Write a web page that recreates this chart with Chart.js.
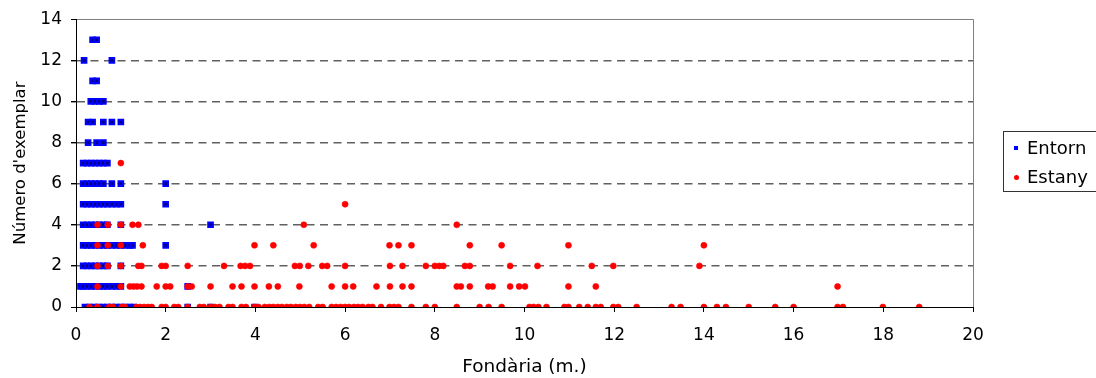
<!DOCTYPE html>
<html>
<head>
<meta charset="utf-8">
<script src="https://cdn.jsdelivr.net/npm/chart.js@4/dist/chart.umd.min.js"></script>
<style>
  html, body { margin: 0; padding: 0; background: #fff; overflow: hidden; }
  #wrap { position: relative; width: 1096px; height: 378px; }
  #legend {
    position: absolute; left: 1003px; top: 131px; width: 100px; height: 61px;
    border: 1px solid #333; box-sizing: border-box;
    font: 18px Verdana, "DejaVu Sans", sans-serif; color: #000;
  }
  .item { position: absolute; left: 0; height: 22px; line-height: 22px; white-space: nowrap; }
  .item span.mark { position: absolute; display: block; }
  .item span.txt { position: absolute; left: 23px; top: 0; }
</style>
</head>
<body>
<div id="wrap">
  <canvas id="chart" width="1096" height="378"></canvas>
  <div id="legend"></div>
</div>
<script>
// Entorn (blue squares): depth in metres / specimen number
const entornDepth = [
  0.37, 0.46,
  0.18, 0.80,
  0.37, 0.46,
  0.33, 0.42, 0.52, 0.61,
  0.27, 0.37, 0.61, 0.80, 1.0,
  0.27, 0.46, 0.61,
  0.16, 0.25, 0.34, 0.43, 0.52, 0.61, 0.70,
  0.16, 0.25, 0.34, 0.43, 0.52, 0.61, 0.80, 1.0, 2.0,
  0.16, 0.25, 0.34, 0.43, 0.52, 0.61, 0.70, 0.80, 0.90, 1.0, 2.0,
  0.16, 0.25, 0.34, 0.43, 0.52, 0.61, 0.70, 1.0, 3.0,
  0.16, 0.25, 0.34, 0.43, 0.52, 0.61, 0.70, 0.80, 0.90, 1.0, 1.1, 1.2, 1.26, 2.0,
  0.16, 0.25, 0.34, 0.43, 0.52, 0.61, 0.70, 1.0,
  0.10, 0.16, 0.25, 0.34, 0.43, 0.52, 0.61, 0.70, 0.80, 0.90, 1.0, 2.49,
  0.20, 0.30, 0.40, 0.50, 0.60, 0.70, 0.80, 0.90, 1.0, 1.1, 1.2, 1.28, 2.49, 3.0, 3.98
];
const entornCount = [
  13, 13,
  12, 12,
  11, 11,
  10, 10, 10, 10,
  9, 9, 9, 9, 9,
  8, 8, 8,
  7, 7, 7, 7, 7, 7, 7,
  6, 6, 6, 6, 6, 6, 6, 6, 6,
  5, 5, 5, 5, 5, 5, 5, 5, 5, 5, 5,
  4, 4, 4, 4, 4, 4, 4, 4, 4,
  3, 3, 3, 3, 3, 3, 3, 3, 3, 3, 3, 3, 3, 3,
  2, 2, 2, 2, 2, 2, 2, 2,
  1, 1, 1, 1, 1, 1, 1, 1, 1, 1, 1, 1,
  0, 0, 0, 0, 0, 0, 0, 0, 0, 0, 0, 0, 0, 0, 0
];

// Estany (red circles), grouped by specimen number
const estany7 = [1.0];
const estany5 = [6.0];
const estany4 = [0.48, 0.71, 1.0, 1.26, 1.39, 5.08, 8.49];
const estany3 = [0.48, 0.71, 1.0, 1.49, 3.98, 4.4, 5.3, 6.99, 7.19, 7.48, 8.78, 9.49, 10.98, 14.0];
const estany2 = [0.48, 0.71, 1.0, 1.39, 1.46, 1.91, 2.0, 2.49, 3.3, 3.67, 3.77, 3.88, 4.88, 4.99,
  5.18, 5.49, 5.6, 6.0, 7.0, 7.28, 7.8, 8.0, 8.1, 8.19, 8.67, 8.78, 9.68, 10.29, 11.5, 11.98, 13.9];
const estany1 = [0.48, 1.0, 1.2, 1.28, 1.36, 1.46, 1.8, 2.0, 2.1, 2.49, 2.58, 3.0, 3.49, 3.69, 3.98,
  4.3, 4.5, 4.98, 5.7, 6.0, 6.18, 6.7, 7.0, 7.28, 7.48, 8.49, 8.58, 8.78, 9.19, 9.29, 9.68, 9.88,
  10.01, 10.98, 11.59, 16.98];
const estany0 = [0.3, 0.48, 0.74, 0.82, 1.02, 1.09, 1.35, 1.43, 1.52, 1.61, 1.69, 1.91, 2.0, 2.19,
  2.28, 2.49, 2.76, 2.85, 3.0, 3.1, 3.2, 3.4, 3.49, 3.69, 3.79, 3.98, 4.07, 4.21, 4.31, 4.4, 4.5,
  4.59, 4.7, 4.79, 4.9, 4.99, 5.09, 5.2, 5.4, 5.5, 5.7, 5.8, 5.9, 6.0, 6.09, 6.2, 6.29, 6.39, 6.52,
  6.61, 6.8, 6.99, 7.09, 7.19, 7.48, 7.8, 8.0, 8.49, 9.0, 9.2, 9.49, 10.11, 10.2, 10.31, 10.49,
  10.89, 10.98, 11.22, 11.41, 11.59, 11.7, 11.98, 12.09, 12.5, 13.28, 13.48, 14.0, 14.29, 14.49,
  15.0, 15.59, 16.0, 16.98, 17.1, 17.99, 18.8];

const seriesNames = ['Entorn', 'Estany'];
const xTitle = 'Fondària (m.)';
const yTitle = "Número d'exemplar";

const FONT = 'Verdana, "DejaVu Sans", sans-serif';

function toPoints(xs, ys) {
  return xs.map((x, i) => ({ x, y: ys[i] }));
}

const estanyRows = [[7, estany7], [5, estany5], [4, estany4], [3, estany3], [2, estany2], [1, estany1], [0, estany0]];
const estanyPoints = [];
estanyRows.forEach(([count, depths]) => {
  depths.forEach((d) => estanyPoints.push({ x: d, y: count }));
});

const chart = new Chart(document.getElementById('chart'), {
  type: 'scatter',
  data: {
    datasets: [
      {
        label: seriesNames[0],
        data: toPoints(entornDepth, entornCount),
        pointStyle: 'rect',
        pointRadius: 3.3,
        pointBackgroundColor: '#000080',
        pointBorderColor: '#0000ff',
        pointBorderWidth: 2,
        order: 2
      },
      {
        label: seriesNames[1],
        data: estanyPoints,
        pointStyle: 'circle',
        pointRadius: 3,
        pointBackgroundColor: '#ff0000',
        pointBorderColor: '#ff0000',
        pointBorderWidth: 0.6,
        order: 1
      }
    ]
  },
  options: {
    responsive: false,
    animation: false,
    events: [],
    layout: { padding: { left: 0, right: 123, top: 18, bottom: 0 } },
    plugins: { legend: { display: false }, tooltip: { enabled: false } },
    scales: {
      x: {
        type: 'linear',
        min: 0,
        max: 20,
        afterFit: (scale) => { scale.height = 71; },
        ticks: { stepSize: 2, color: '#000', padding: 13, maxRotation: 0, font: { family: FONT, size: 17 } },
        grid: {
          color: (c) => (c.tick && c.tick.value === 20 ? '#808080' : 'rgba(0,0,0,0)'),
          tickColor: '#000',
          tickLength: 5,
          lineWidth: 1
        },
        border: { color: '#000', width: 1 },
        title: {
          display: true,
          text: xTitle,
          color: '#000',
          padding: { top: 0, bottom: 0 },
          font: { family: FONT, size: 18.5 }
        }
      },
      y: {
        type: 'linear',
        min: 0,
        max: 14,
        afterFit: (scale) => { scale.width = 76; },
        ticks: { stepSize: 2, color: '#000', padding: 9, font: { family: FONT, size: 17 } },
        grid: {
          color: (c) => (c.tick && c.tick.value === 0 ? 'rgba(0,0,0,0)' : (c.tick && c.tick.value === 14 ? '#808080' : '#606060')),
          tickColor: '#000',
          tickLength: 5,
          lineWidth: (c) => (c.tick && c.tick.value > 0 && c.tick.value < 14 ? 1.4 : 1)
        },
        border: {
          color: '#000',
          width: 1,
          dash: (c) => (c.tick && c.tick.value > 0 && c.tick.value < 14 ? [8, 5.5] : [])
        },
        title: {
          display: true,
          text: yTitle,
          color: '#000',
          padding: { top: 11, bottom: 0 },
          font: { family: FONT, size: 16.5 }
        }
      }
    }
  }
});

// HTML legend built from the chart's datasets
const legend = document.getElementById('legend');
chart.data.datasets.forEach((ds, i) => {
  const item = document.createElement('div');
  item.className = 'item';
  item.style.top = (i === 0 ? 5 : 34) + 'px';
  const mark = document.createElement('span');
  mark.className = 'mark';
  if (ds.pointStyle === 'rect') {
    mark.style.cssText = 'left:10px;top:9px;width:4px;height:4px;background:#0000ff;';
  } else {
    mark.style.cssText = 'left:10px;top:9px;width:5px;height:5px;border-radius:50%;background:#ff0000;';
  }
  const txt = document.createElement('span');
  txt.className = 'txt';
  txt.textContent = ds.label;
  item.appendChild(mark);
  item.appendChild(txt);
  legend.appendChild(item);
});
</script>
</body>
</html>
